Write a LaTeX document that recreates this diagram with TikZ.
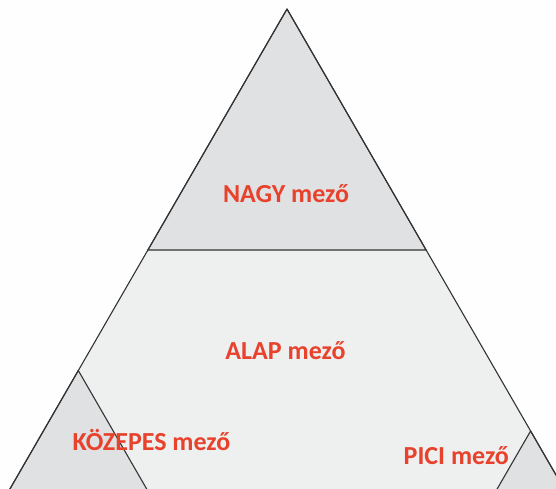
\documentclass[tikz,border=0pt]{standalone}
\usepackage{fontspec}
\setmainfont{Carlito}
\definecolor{bgwhite}{HTML}{FEFEFE}
\definecolor{darkfill}{HTML}{E0E1E3}
\definecolor{lightfill}{HTML}{EEEFEF}
\definecolor{edge}{HTML}{333333}
\definecolor{labelred}{HTML}{E8412C}
\tikzset{
  region/.style={draw=edge, line width=1.1pt, line join=round},
  label/.style={text=labelred, font=\bfseries\fontsize{26}{31}\selectfont, inner sep=0pt, anchor=center}
}
\begin{document}
\begin{tikzpicture}[x=1pt, y=-1pt]
\useasboundingbox (0,0) rectangle (556,488);
\fill[bgwhite] (0,0) rectangle (556,488);
\begin{scope}
\clip (0,0) rectangle (556,488);
% coordinates
\coordinate (apex) at (287,9);
\coordinate (bl) at (-8.0,520);
\coordinate (br) at (582.0,520);
\coordinate (ml) at (147.9,250);
\coordinate (mr) at (426.1,250);
\coordinate (ka) at (78.3,370.5);
\coordinate (kb) at (164.6,520);
\coordinate (pa) at (530.6,431);
\coordinate (pb) at (479.2,520);
% whole triangle
\fill[lightfill] (apex) -- (bl) -- (br) -- cycle;
% top region
\filldraw[fill=darkfill, region] (apex) -- (ml) -- (mr) -- cycle;
% left small region
\filldraw[fill=darkfill, region] (ka) -- (kb) -- (bl) -- cycle;
% right small region
\filldraw[fill=darkfill, region] (pa) -- (br) -- (pb) -- cycle;
% outline
\draw[region] (bl) -- (apex) -- (br);
\end{scope}
\node[label] (nagy) at (286,194) {NAGY mező};
\node[label] (alap) at (285.5,351) {ALAP mező};
\node[label, anchor=west] (kozepes) at (72.5,440.5) {\vphantom{NAGY}KÖZEPES mező};
\node[label, anchor=west] (pici) at (403.5,456) {PICI mező};
\end{tikzpicture}
\end{document}
